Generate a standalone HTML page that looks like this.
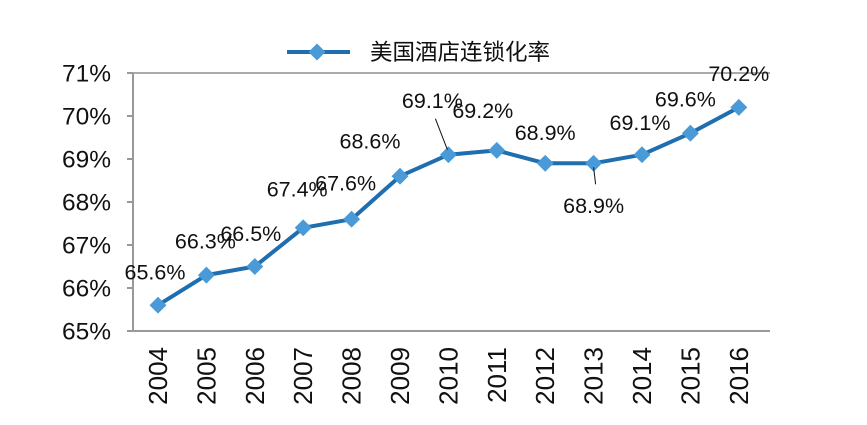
<!DOCTYPE html>
<html><head><meta charset="utf-8"><style>
body{margin:0;background:#fff}
svg{display:block;font-family:"Liberation Sans","Noto Sans CJK SC",sans-serif}
</style></head><body>
<svg width="867" height="425">
<g id="axes"></g>
<g id="marks"></g>
<g>
<line x1="287" y1="52" x2="350" y2="52" stroke="#1f6eb0" stroke-width="4"/>
<rect x="311" y="46" width="12" height="12" fill="#4a9ad8" transform="rotate(45 317 52)"/>
<text x="370" y="60" font-size="22.5" fill="#111">美国酒店连锁化率</text>
</g>
</svg>
<script>
const years=["2004","2005","2006","2007","2008","2009","2010","2011","2012","2013","2014","2015","2016"];
const values=[65.6,66.3,66.5,67.4,67.6,68.6,69.1,69.2,68.9,68.9,69.1,69.6,70.2];
const yTicks=[65,66,67,68,69,70,71];
const labelDx=[-3,-1,-4,-6,-6,-30,-16,-14,0,0,-2,-5,0];
const labelDy=[-33,-34,-33,-39,-36,-35,-54,-40,-31,42,-32,-34,-34];
const NS="http://www.w3.org/2000/svg";
function x(i){return 158+i*48.4;}
function y(v){return 331-(v-65)*43;}
function mk(tag,attrs,parent,txt){const e=document.createElementNS(NS,tag);for(const k in attrs)e.setAttribute(k,attrs[k]);if(txt!==undefined)e.textContent=txt;parent.appendChild(e);return e;}
const ax=document.getElementById('axes'),mg=document.getElementById('marks');
let l=mk('line',{x1:133,y1:73,x2:770,y2:73,stroke:'#aaa','stroke-width':2},ax);


l=mk('line',{x1:133,y1:73,x2:133,y2:331,stroke:'#999','stroke-width':2},ax);


l=mk('line',{x1:127,y1:331,x2:770,y2:331,stroke:'#999','stroke-width':2},ax);


yTicks.forEach(t=>{
  const tk=mk('line',{x1:127,y1:y(t),x2:133,y2:y(t),stroke:'#999','stroke-width':2},ax);
  
  
  const tx=mk('text',{x:111,y:y(t)+8.5,'font-size':24.5,'text-anchor':'end',fill:'#111'},ax,t+'%');
  
  
});
years.forEach((yr,i)=>{
  const tx=mk('text',{x:0,y:0,'font-size':26,'text-anchor':'end',fill:'#111',transform:`translate(${x(i)+9},${347}) rotate(-90)`},ax,yr);
  
  
});
const pts=values.map((v,i)=>x(i)+','+y(v)).join(' ');
const pl=mk('polyline',{points:pts,fill:'none',stroke:'#1f6eb0','stroke-width':4,'stroke-linejoin':'round'},mg);


values.forEach((v,i)=>{
  const r=mk('rect',{x:x(i)-6,y:y(v)-6,width:12,height:12,fill:'#4a9ad8',transform:`rotate(45 ${x(i)} ${y(v)})`},mg);
  
  
  const t=mk('text',{x:x(i)+labelDx[i],y:y(v)+labelDy[i]+7.5,'font-size':21.5,'text-anchor':'middle',fill:'#111'},mg,v.toFixed(1)+'%');
  
  
});
let ld=mk('line',{x1:x(6)-13,y1:y(values[6])-36,x2:x(6)-1,y2:y(values[6])-5,stroke:'#111','stroke-width':1},mg);


ld=mk('line',{x1:x(9),y1:y(values[9])+4,x2:x(9)+2,y2:y(values[9])+21,stroke:'#111','stroke-width':1},mg);


</script>
</body></html>
